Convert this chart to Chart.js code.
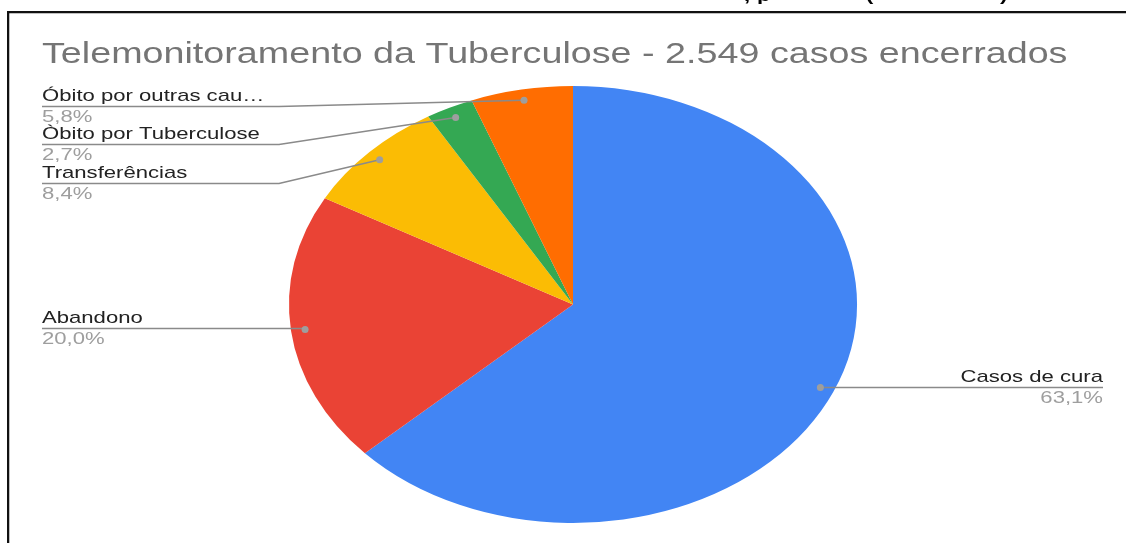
<!DOCTYPE html>
<html><head><meta charset="utf-8">
<script src="https://cdn.jsdelivr.net/npm/chart.js@4"></script>
<style>html,body{margin:0;padding:0;background:#fff}canvas{display:block}</style>
</head><body>
<canvas id="c" width="1126" height="543"></canvas>
<script>
// ---- data ----
const categories = ["Casos de cura", "Abandono", "Transferências", "Òbito por Tuberculose", "Óbito por outras cau…"];
const caseCounts = [1608, 510, 214, 69, 148];
const sliceColors = ["#4285F4", "#EA4335", "#FBBC04", "#34A853", "#FF6D01"];
const titleText = "Telemonitoramento da Tuberculose - 2.549 casos encerrados";
const total = caseCounts.reduce((a, b) => a + b, 0);
const pctLabels = caseCounts.map(v => (v / total * 100).toFixed(1).replace('.', ',') + '%');

const SX = 1.3; // horizontal stretch of the picture
const FONT = '"Liberation Sans", Arial, sans-serif';

function sText(ctx, txt, x, y, align, font, color) {
  ctx.save();
  ctx.translate(x, y);
  ctx.scale(SX, 1);
  ctx.font = font;
  ctx.fillStyle = color;
  ctx.textAlign = align;
  ctx.textBaseline = 'alphabetic';
  ctx.fillText(txt, 0, 0);
  ctx.restore();
}

const ellipsePlugin = {
  id: 'ellipse',
  beforeDatasetsDraw(chart) {
    const a = chart.getDatasetMeta(0).data[0];
    const ctx = chart.ctx;
    ctx.save();
    ctx.translate(a.x, 0);
    ctx.scale(SX, 1);
    ctx.translate(-a.x, 0);
  },
  afterDatasetsDraw(chart) { chart.ctx.restore(); }
};

// label layout: side and text baseline
const labelLayout = [
  { side: 'right', base: 382 },
  { side: 'left', base: 323, direct: true },
  { side: 'left', base: 178 },
  { side: 'left', base: 139 },
  { side: 'left', base: 101 }
];

const decorPlugin = {
  id: 'decor',
  beforeDraw(chart) {
    const ctx = chart.ctx;
    ctx.save();
    ctx.fillStyle = '#fff';
    ctx.fillRect(0, 0, chart.width, chart.height);
    // frame
    ctx.fillStyle = '#111';
    ctx.fillRect(7, 11, chart.width - 7, 2);
    ctx.fillRect(7, 11, 2, chart.height - 11);
    ctx.fillStyle = 'rgba(0,0,0,0.25)';
    ctx.fillRect(9, 13, chart.width - 9, 1);
    ctx.fillRect(9, 13, 1, chart.height - 13);
    ctx.restore();
    // cut-off text fragments above the frame
    const bf = 'bold 17px ' + FONT;
    sText(ctx, ',', 744, 1, 'left', bf, '#000');
    sText(ctx, 'p', 757, 1, 'left', bf, '#000');
    sText(ctx, '(', 866, 1, 'left', bf, '#000');
    sText(ctx, ')', 1000, 1, 'left', bf, '#000');
    // title
    sText(ctx, titleText, 42, 63, 'left', '29px ' + FONT, '#757575');
  },
  afterDraw(chart) {
    const ctx = chart.ctx;
    const meta = chart.getDatasetMeta(0);
    meta.data.forEach((arc, i) => {
      const mid = (arc.startAngle + arc.endAngle) / 2;
      const r = arc.outerRadius * 0.95;
      const px = arc.x + SX * r * Math.cos(mid);
      const py = arc.y + r * Math.sin(mid);
      const L = labelLayout[i];
      const ly = L.base + 5.5;
      ctx.save();
      ctx.strokeStyle = '#8a8a8a';
      ctx.lineWidth = 1.5;
      ctx.beginPath();
      if (L.side === 'left') {
        const xe = L.direct ? px : 279;
        ctx.moveTo(42, ly);
        ctx.lineTo(xe, ly);
        ctx.lineTo(px, py);
      } else {
        ctx.moveTo(px, py);
        ctx.lineTo(1103, ly);
      }
      ctx.stroke();
      ctx.fillStyle = '#9e9e9e';
      ctx.beginPath();
      ctx.arc(px, py, 3.5, 0, Math.PI * 2);
      ctx.fill();
      ctx.restore();
      const align = L.side === 'left' ? 'left' : 'right';
      const tx = L.side === 'left' ? 42 : 1103;
      sText(ctx, categories[i], tx, L.base, align, '17px ' + FONT, '#222222');
      sText(ctx, pctLabels[i], tx, L.base + 21, align, '17px ' + FONT, '#9e9e9e');
    });
  }
};

new Chart(document.getElementById('c'), {
  type: 'pie',
  data: {
    labels: categories,
    datasets: [{
      data: caseCounts,
      backgroundColor: sliceColors,
      borderWidth: 0,
      hoverOffset: 0
    }]
  },
  options: {
    responsive: false,
    animation: false,
    events: [],
    layout: { padding: { top: 86, bottom: 20, left: 320, right: 300 } },
    plugins: {
      legend: { display: false },
      tooltip: { enabled: false },
      title: { display: false }
    }
  },
  plugins: [decorPlugin, ellipsePlugin]
});
</script>
</body></html>
